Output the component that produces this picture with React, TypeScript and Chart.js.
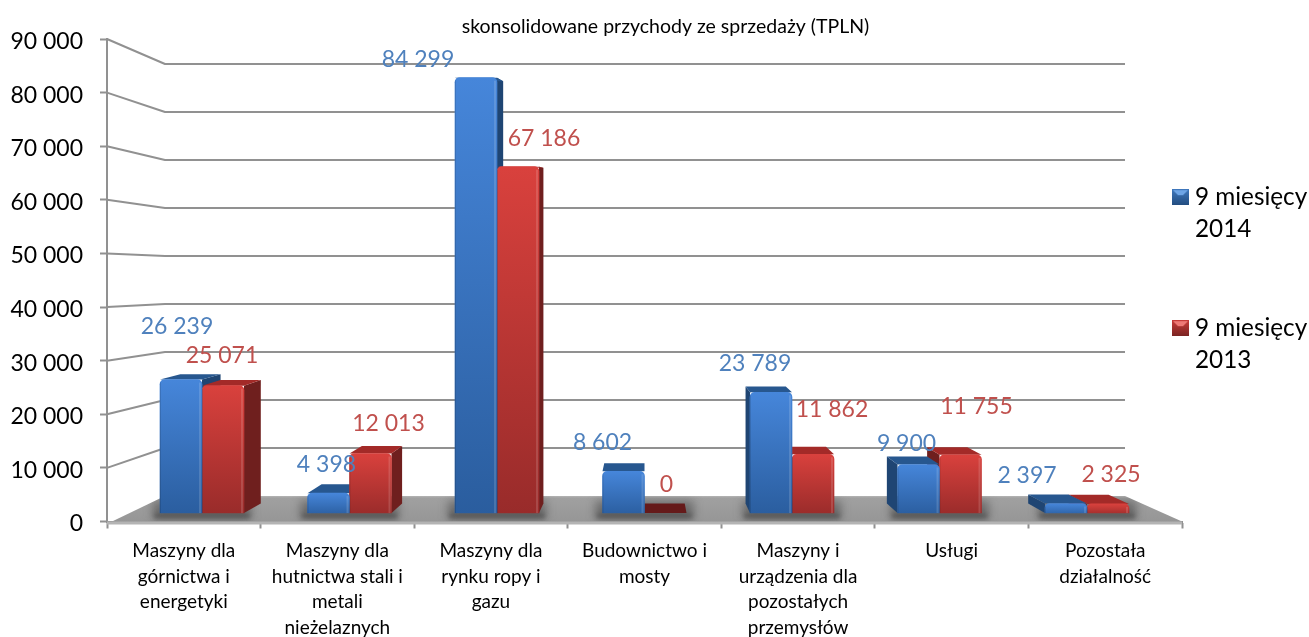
import React, { useEffect, useRef } from "react";
import { Chart, registerables } from "chart.js";

Chart.register(...registerables);

const categories: string[][] = [
  ["Maszyny dla", "górnictwa i", "energetyki"],
  ["Maszyny dla", "hutnictwa stali i", "metali", "nieżelaznych"],
  ["Maszyny dla", "rynku ropy i", "gazu"],
  ["Budownictwo i", "mosty"],
  ["Maszyny i", "urządzenia dla", "pozostałych", "przemysłów"],
  ["Usługi"],
  ["Pozostała", "działalność"],
];
const series2014 = [26239, 4398, 84299, 8602, 23789, 9900, 2397];
const series2013 = [25071, 12013, 67186, 0, 11862, 11755, 2325];
const seriesNames = [["9 miesięcy", "2014"], ["9 miesięcy", "2013"]];
const chartTitle = "skonsolidowane przychody ze sprzedaży (TPLN)";

const labelNudge2014 = [[-4, -53], [-2, -29], [-58, -18], [-21, -29], [-16, -29], [-12, -21], [-39, -28]];
const labelNudge2013 = [[-1, -30], [18, -30], [26, -28], [1, -31], [19, -45], [16, -48], [3, -29]];

const FONT = "Lato, Carlito, Calibri, sans-serif";
const GREY = "#919191";
const BLUE_TEXT = "#4f81bd";
const RED_TEXT = "#c0504d";
const VX = 644;
const VY = 200;
const KX = 0.042;
const KY = 0.03;

const fmt = (v: number) => String(v).replace(/\B(?=(\d{3})+(?!\d))/g, " ");
const proj = (x: number, y: number): [number, number] => [x + (VX - x) * KX, y + (VY - y) * KY];

function poly(ctx: CanvasRenderingContext2D, pts: [number, number][], fill: string | CanvasGradient) {
  ctx.beginPath();
  pts.forEach((p, i) => (i ? ctx.lineTo(p[0], p[1]) : ctx.moveTo(p[0], p[1])));
  ctx.closePath();
  ctx.fillStyle = fill;
  ctx.fill();
}

function marker(top: string, mid: string, dark: string) {
  const c = document.createElement("canvas");
  c.width = 17;
  c.height = 16;
  const g = c.getContext("2d")!;
  const body = g.createLinearGradient(0, 0, 0, 16);
  body.addColorStop(0, mid);
  body.addColorStop(1, dark);
  g.fillStyle = body;
  g.fillRect(0, 0, 17, 16);
  poly(g, [[1, 1], [16, 1], [11, 6], [6, 6]], top);
  return c;
}

const scene3d = {
  id: "scene3d",
  afterUpdate(chart: any) {
    // place the legend and the title where the reference has them
    const lg = chart.legend;
    const pad = lg.options.labels.padding;
    lg.left = 1178.2 - pad;
    lg.top = 185 - pad;
    chart.titleBlock.left = 22;
    // Lato sits higher than the reference face at the same baseline setting
    chart.scales.y.getLabelItems().forEach((it: any) => {
      it.options.translation = [it.options.translation[0], it.options.translation[1] + 2.5];
    });
  },
  beforeDatasetsDraw(chart: any) {
    const ctx: CanvasRenderingContext2D = chart.ctx;
    const { y, y3 } = chart.scales;
    const a = chart.chartArea;
    const xBackL = a.left + 58;
    const xBackR = a.right - 57;
    ctx.save();
    // walls
    ctx.strokeStyle = GREY;
    ctx.lineWidth = 2;
    ctx.lineJoin = "round";
    for (const t of y.ticks) {
      if (t.value === 0) continue;
      ctx.beginPath();
      ctx.moveTo(a.left, y.getPixelForValue(t.value));
      ctx.lineTo(xBackL, y3.getPixelForValue(t.value));
      ctx.lineTo(xBackR, y3.getPixelForValue(t.value));
      ctx.stroke();
    }
    // floor
    const yBack = y3.getPixelForValue(0);
    const yFront = y.getPixelForValue(0);
    const floor: [number, number][] = [[xBackL, yBack], [xBackR, yBack], [a.right, yFront], [a.left + 5, yFront]];
    const fg = ctx.createLinearGradient(0, yBack, 0, yFront);
    fg.addColorStop(0, "#b4b4b4");
    fg.addColorStop(0.08, "#a0a0a0");
    fg.addColorStop(1, "#969696");
    poly(ctx, floor, fg);
    // floor shadows, clipped to the floor
    const m0 = chart.getDatasetMeta(0).data;
    const m1 = chart.getDatasetMeta(1).data;
    ctx.save();
    ctx.beginPath();
    floor.forEach((p, i) => (i ? ctx.lineTo(p[0], p[1]) : ctx.moveTo(p[0], p[1])));
    ctx.closePath();
    ctx.clip();
    ctx.filter = "blur(5px)";
    ctx.fillStyle = "rgba(45,45,45,0.45)";
    m0.forEach((b: any, i: number) => {
      const L = b.x - b.width / 2 - 7;
      const R = m1[i].x + m1[i].width / 2 + 7;
      ctx.fillRect(L, yBack + 5, R - L, yFront - yBack - 7);
    });
    ctx.filter = "blur(2px)";
    ctx.fillStyle = "rgba(40,40,40,0.35)";
    m0.forEach((b: any, i: number) => {
      const L = b.x - b.width / 2 - 6;
      const R = m1[i].x + m1[i].width / 2 + 6;
      ctx.fillRect(L, yFront - 8, R - L, 5);
    });
    ctx.restore();
    ctx.fillStyle = "#b4b4b4";
    ctx.fillRect(a.left, yFront, a.right - a.left, 3);

    // side and top faces of the bars, behind the library's front faces
    const faces = (b: any, value: number, side: string, top: string) => {
      const L = b.x - b.width / 2;
      const R = b.x + b.width / 2;
      const B = b.base;
      const T = value === 0 ? B : b.y;
      const pLT = proj(L, T), pRT = proj(R, T), pLB = proj(L, B), pRB = proj(R, B);
      if (R < VX) poly(ctx, [[R, T], pRT, pRB, [R, B]], side);
      if (L > VX) poly(ctx, [[L, T], pLT, pLB, [L, B]], side);
      poly(ctx, [[L, T], [R, T], pRT, pLT], value === 0 ? "#651a1a" : top);
    };
    m0.forEach((b: any, i: number) => {
      const blue = () => faces(b, series2014[i], "#1f4573", "#27578f");
      const red = () => faces(m1[i], series2013[i], "#6f1f1e", "#a32a28");
      if (b.x < VX) { blue(); red(); } else { red(); blue(); }
    });
    ctx.restore();
  },
  afterDatasetsDraw(chart: any) {
    const ctx: CanvasRenderingContext2D = chart.ctx;
    ctx.save();
    // soft bevel on the front faces
    [series2014, series2013].forEach((vals, idx) => {
      chart.getDatasetMeta(idx).data.forEach((b: any, i: number) => {
        if (vals[i] === 0) return;
        const h = b.base - b.y;
        ctx.fillStyle = "rgba(255,255,255,0.14)";
        ctx.fillRect(b.x + b.width / 2 - 3, b.y + 3, 2, h - 3);
        ctx.fillStyle = "rgba(0,0,0,0.12)";
        ctx.fillRect(b.x - b.width / 2, b.y + 3, 1, h - 3);
      });
    });
    ctx.font = `23px ${FONT}`;
    ctx.textAlign = "center";
    ctx.textBaseline = "middle";
    const put = (idx: number, vals: number[], nudge: number[][], color: string) => {
      const data = chart.getDatasetMeta(idx).data;
      ctx.fillStyle = color;
      vals.forEach((v, i) => ctx.fillText(fmt(v), data[i].x + nudge[i][0], data[i].y + nudge[i][1]));
    };
    put(0, series2014, labelNudge2014, BLUE_TEXT);
    put(1, series2013, labelNudge2013, RED_TEXT);
    ctx.restore();
  },
};

function frontFill(top: string, bottom: string, values: number[]) {
  return (c: any) => {
    if (c.type !== "data") return top;
    if (values[c.dataIndex] === 0) return "rgba(0,0,0,0)";
    const s = c.chart.scales.y2;
    const g = c.chart.ctx.createLinearGradient(0, s.getPixelForValue(values[c.dataIndex]), 0, s.getPixelForValue(0));
    g.addColorStop(0, top);
    g.addColorStop(1, bottom);
    return g;
  };
}

export default function App() {
  const ref = useRef<HTMLCanvasElement>(null);
  useEffect(() => {
    const markers = [
      marker("#6ea5e6", "#3f78bd", "#234d80"),
      marker("#ee7a76", "#c93c39", "#7a2422"),
    ];
    const barBase = 577;
    const chart = new Chart(ref.current!, {
      type: "bar",
      data: {
        labels: categories as any,
        datasets: [
          {
            label: "9 miesięcy 2014",
            data: series2014.map((v, i) => ({ x: i, y: v })) as any,
            xAxisID: "x2",
            yAxisID: "y2",
            base: barBase,
            barThickness: 42,
            backgroundColor: frontFill("#4686da", "#2a5d9e", series2014) as any,
            borderRadius: { topLeft: 5, topRight: 5, bottomLeft: 0, bottomRight: 0 },
            borderSkipped: "bottom",
          },
          {
            label: "9 miesięcy 2013",
            data: series2013.map((v, i) => ({ x: i, y: v })) as any,
            xAxisID: "x2",
            yAxisID: "y2",
            base: barBase,
            barThickness: 42,
            backgroundColor: frontFill("#d9413d", "#982b2a", series2013) as any,
            borderRadius: { topLeft: 5, topRight: 5, bottomLeft: 0, bottomRight: 0 },
            borderSkipped: "bottom",
          },
        ],
      },
      options: {
        responsive: false,
        animation: false,
        layout: { padding: 0 },
        plugins: {
          tooltip: { enabled: false },
          title: {
            display: true,
            text: chartTitle,
            color: "#000",
            font: { family: FONT, size: 19.5, weight: "normal", lineHeight: "20px" } as any,
            padding: { top: 17, bottom: 2 },
          },
          legend: {
            display: true,
            position: "right",
            align: "start",
            maxWidth: 127,
            labels: {
              usePointStyle: true,
              pointStyleWidth: 4.6,
              boxHeight: 16,
              padding: 67,
              color: "#000",
              font: { family: FONT, size: 24.3, lineHeight: "32px" } as any,
              generateLabels: () =>
                seriesNames.map((n, i) => ({
                  text: n as any,
                  datasetIndex: i,
                  pointStyle: markers[i],
                  fillStyle: "#000",
                  strokeStyle: "#000",
                  lineWidth: 0,
                  fontColor: "#000",
                })) as any,
            },
          },
        },
        scales: {
          x: {
            type: "category",
            position: "bottom",
            offset: true,
            afterFit: (s: any) => { s.height = 115.5; },
            grid: { offset: true, drawOnChartArea: false, drawTicks: true, tickLength: 7, tickColor: GREY, tickWidth: 2 },
            border: { color: GREY, width: 2 },
            ticks: {
              autoSkip: false,
              maxRotation: 0,
              minRotation: 0,
              padding: 10,
              color: "#000",
              font: { family: FONT, size: 19, lineHeight: "25.4px" } as any,
            },
          },
          y: {
            type: "linear",
            position: "left",
            min: 0,
            max: 90000,
            afterFit: (s: any) => { s.width = 107; },
            grid: { drawOnChartArea: false, drawTicks: true, tickLength: 7, tickColor: GREY, tickWidth: 2 },
            border: { color: GREY, width: 2 },
            ticks: {
              stepSize: 10000,
              padding: 17,
              color: "#000",
              font: { family: FONT, size: 23 },
              callback: (v: any) => fmt(Number(v)),
            },
          },
          x2: { type: "linear", display: false, position: "bottom", offset: false, min: -0.644, max: 6.644, grid: { offset: false } },
          y2: { type: "linear", display: false, position: "left", min: -1058, max: 91731 },
          y3: { type: "linear", display: false, position: "left", min: -5312, max: 95208 },
        },
      } as any,
      plugins: [scene3d],
    });
    return () => chart.destroy();
  }, []);
  return (
    <div style={{ position: "absolute", left: 0, top: 0, width: 1309, height: 637, background: "#fff" }}>
      <canvas ref={ref} width={1309} height={637} style={{ display: "block" }} />
    </div>
  );
}
